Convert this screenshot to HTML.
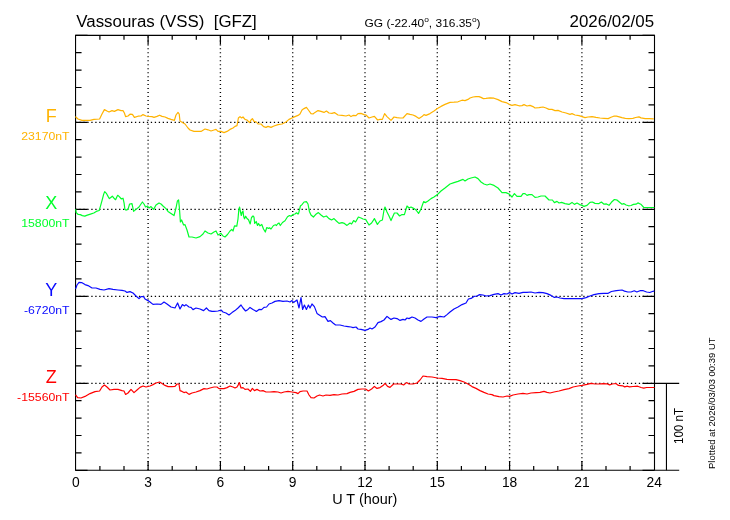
<!DOCTYPE html>
<html><head><meta charset="utf-8"><title>VSS</title>
<style>html,body{margin:0;padding:0;background:#fff}svg{display:block;will-change:transform}text{font-family:"Liberation Sans",sans-serif}</style></head><body>
<svg width="730" height="520" viewBox="0 0 730 520">
<rect width="730" height="520" fill="#fff"/>
<g stroke="#000" stroke-width="1.4" stroke-dasharray="1 2.969" fill="none">
<line x1="148.10" y1="36.44" x2="148.10" y2="470.20"/>
<line x1="220.40" y1="36.44" x2="220.40" y2="470.20"/>
<line x1="292.70" y1="36.44" x2="292.70" y2="470.20"/>
<line x1="365.00" y1="36.44" x2="365.00" y2="470.20"/>
<line x1="437.30" y1="36.44" x2="437.30" y2="470.20"/>
<line x1="509.60" y1="36.44" x2="509.60" y2="470.20"/>
<line x1="581.90" y1="36.44" x2="581.90" y2="470.20"/>
<line x1="75.43" y1="122.35" x2="654.20" y2="122.35" stroke-width="1.25" stroke-dasharray="1.3 2.6675"/>
<line x1="75.43" y1="209.35" x2="654.20" y2="209.35" stroke-width="1.25" stroke-dasharray="1.3 2.6675"/>
<line x1="75.43" y1="296.35" x2="654.20" y2="296.35" stroke-width="1.25" stroke-dasharray="1.3 2.6675"/>
<line x1="75.43" y1="383.35" x2="654.20" y2="383.35" stroke-width="1.25" stroke-dasharray="1.3 2.6675"/>
</g>
<g stroke="#000" stroke-width="1.1" fill="none">
<path d="M75.55 470.25V35.35H654.5V470.25" stroke-linejoin="miter"/>
<path d="M75.00 470.25H679.2"/>
<path d="M654.5 383.35H679.2M666.45 383.20V470.25"/>
<path d="M99.90 35.35v4.3M99.90 470.25v-4.3M124.00 35.35v4.3M124.00 470.25v-4.3M148.10 35.35v9.2M148.10 470.25v-9.2M172.20 35.35v4.3M172.20 470.25v-4.3M196.30 35.35v4.3M196.30 470.25v-4.3M220.40 35.35v9.2M220.40 470.25v-9.2M244.50 35.35v4.3M244.50 470.25v-4.3M268.60 35.35v4.3M268.60 470.25v-4.3M292.70 35.35v9.2M292.70 470.25v-9.2M316.80 35.35v4.3M316.80 470.25v-4.3M340.90 35.35v4.3M340.90 470.25v-4.3M365.00 35.35v9.2M365.00 470.25v-9.2M389.10 35.35v4.3M389.10 470.25v-4.3M413.20 35.35v4.3M413.20 470.25v-4.3M437.30 35.35v9.2M437.30 470.25v-9.2M461.40 35.35v4.3M461.40 470.25v-4.3M485.50 35.35v4.3M485.50 470.25v-4.3M509.60 35.35v9.2M509.60 470.25v-9.2M533.70 35.35v4.3M533.70 470.25v-4.3M557.80 35.35v4.3M557.80 470.25v-4.3M581.90 35.35v9.2M581.90 470.25v-9.2M606.00 35.35v4.3M606.00 470.25v-4.3M630.10 35.35v4.3M630.10 470.25v-4.3M75.55 35.30h12M654.50 35.30h-12M75.55 52.70h6M654.50 52.70h-6M75.55 70.10h6M654.50 70.10h-6M75.55 87.50h6M654.50 87.50h-6M75.55 104.90h6M654.50 104.90h-6M75.55 122.30h12M654.50 122.30h-12M75.55 139.70h6M654.50 139.70h-6M75.55 157.10h6M654.50 157.10h-6M75.55 174.50h6M654.50 174.50h-6M75.55 191.90h6M654.50 191.90h-6M75.55 209.30h12M654.50 209.30h-12M75.55 226.70h6M654.50 226.70h-6M75.55 244.10h6M654.50 244.10h-6M75.55 261.50h6M654.50 261.50h-6M75.55 278.90h6M654.50 278.90h-6M75.55 296.30h12M654.50 296.30h-12M75.55 313.70h6M654.50 313.70h-6M75.55 331.10h6M654.50 331.10h-6M75.55 348.50h6M654.50 348.50h-6M75.55 365.90h6M654.50 365.90h-6M75.55 383.30h12M654.50 383.30h-12M75.55 400.70h6M654.50 400.70h-6M75.55 418.10h6M654.50 418.10h-6M75.55 435.50h6M654.50 435.50h-6M75.55 452.90h6M654.50 452.90h-6M75.55 470.30h12M654.50 470.30h-12" stroke-width="1.2"/>
</g>
<g fill="none" stroke-width="1.2" stroke-linejoin="round" stroke-linecap="round">
<polyline stroke="#ffb300" points="75.8,117 78,119 82,120.4 90,120.4 94,119.4 99.6,119 102,114 104.4,109.6 107,111 109,112 112,110.6 114.4,111.4 118,109.6 121,110.6 123,110.6 124.4,113 125.6,116.6 128,116 130,114.2 132.4,114.4 134.4,117.4 138,116.2 141,116 143,114.6 146,116 149,116.4 152,116.6 154,117.4 157,116.4 159.6,115.2 162,116.4 165,117 168,118.4 171,119.4 174.4,120.4 176,115 178,112.4 179.2,114 180,121 182,122.2 185,124 188,128 190,130 194,131.4 201,131.4 205,129 208,129.8 211,131 214,130 216,129.4 218,131.4 221,131.4 224,132.6 227,131.4 230,129.4 233,128 235,126.4 237,125.6 238.4,118 240,116.6 241.6,118 243,117 245,119.4 247,120 249.6,122.6 251,120 252.4,118.6 254,121.4 256.4,122 258,124 261,124 263.6,126.6 266,127.4 268,126.4 271,127.4 274,126 278,124.6 282,124 286,122 289,119.4 292,118 295,116.6 298,115.4 300,114 302,110 304,108.6 306.4,107.4 308.4,110 311,113.6 313,114 315,112.4 318,110.6 321,111.4 324,112.4 326.4,111 329,113 332,113.4 334.4,112.6 338,115 342,115.4 346,116 349,115 351,116.6 353,115.4 356,115.6 358,113.6 361,113.4 364,114.6 366,115 369,118 372,117 374.4,116.4 377.6,120 380,119.4 382.4,119.4 384.6,113.6 387,116.6 391,120.4 394,117 397,117.6 400,118 403,118 407,113.6 410,114.4 413,115 416,116.4 419,118.4 422,116.6 424,114.6 426,115.4 430,113.6 434,111 437.4,108.6 441,106.4 445,104.4 450,102.4 454,102.2 458,101.8 462,100.2 465,100.6 468,99.4 470,98 473,97 476,96.6 479,96.6 481,97.4 483.4,98.6 486,98.4 490,97.8 494,98.2 498,99.6 502,101.6 506,102.6 509.6,104.6 512,105.4 515,104.6 519,105.8 522,105.6 524,104.6 527,106 530,105.4 533,106.6 535,108 539,107.6 543,107 546,108 549,109.4 552,109.4 555,110.6 558,110.4 562,112 566,113 570,114.4 572,113.6 575,115 579,115.6 582,116.6 585,117.6 588,117 592,116.6 596,117.4 600,118 604,118.3 608.2,118.6 611,117.2 613.7,116.2 616.4,116.1 619.2,116.8 621.9,117.6 625.3,118.3 628.8,118.6 632.9,118.3 635.6,117.5 639,116.9 641,117.9 645.2,118.6 649.3,118.7 653.4,118.8"/>
<polyline stroke="#00ff2a" points="75.8,209.6 76.2,212.6 78.2,214.5 80.3,214.65 82.3,215.6 84.8,216.1 87.3,215.1 90.5,214.1 93.8,213 96.3,211.4 99.2,210.5 100.4,206.4 102,200.7 103.7,194.1 104.7,191.6 106.6,193.7 108.2,196.6 109.4,198.6 111.1,197.2 112.3,196.2 114,198.2 115.6,199.7 116.8,197 117.7,195.3 119.3,196.6 121.4,199 123,198.2 124.1,203.1 124.9,209.3 125.9,210.1 128,209.4 129.6,204 132,203.6 133.6,211.4 136,209.4 139,207 141,204 142.4,202 144,204 145.6,207 147.6,206 149,208 151,206.6 153.6,209.4 156,205 159,203 161,204 163,206 166,208.6 168,211.4 171,213.4 174,215.6 176,208 177.4,201 178.6,200 179.4,208 180.4,222 181.6,220 183.6,225 185,224.6 187,230 189,237 192,237 196,238 200,236.6 203,234 205,231 208,233 211,234 214,232 216,231 218,235 221,233.4 223,236 225,237 227.5,234.5 230,231 231.8,229.5 233,231 234.5,225.8 236.8,226.2 238,219 238.8,210 239.6,207 240.3,211 241.3,215.5 242.2,212 243,211 243.7,216.5 244.5,218.8 245.7,216.2 247,218.5 248.5,219.8 250.2,224 251.5,217.5 253,216 254,217.2 254.7,223.5 256.2,221.5 257.5,225.5 258.5,223.5 260,225.8 261.8,224.5 263.5,229 265.3,232 266.8,227.5 268.5,228.5 269.5,227.8 271,229 273.5,225.5 275.5,224.8 276.5,225.5 277.5,224 279,223 280.3,225.5 282.5,222.5 285,220.8 287.5,216.8 289.5,215.5 291,216.2 293,214.5 295,214 296.5,212.8 298,214 298.6,213.4 300.4,206 302,204.6 304,202 306.4,201.6 308,204 309.4,211.4 311,215 313.4,217 315.6,214.6 318.4,212.6 321,215 323.6,217 326.4,216 329,218.6 331.6,220 334,218.6 336.4,221 339,223.4 342,222.6 344.4,223.4 347,225.4 350,223 351.6,224 353.6,220.6 355.6,222 358.4,217 361,218 363,219 365.6,219.4 369,225 371.6,223 374.4,218.6 377.4,224.4 380,221 382.4,220 384,210 385,207 387,212 389,216 391,220.6 394.4,213 397,213 399.6,216 402,214.6 404.4,214.6 407,206 409,208 411,207 414,208.6 416,210 418.6,213.4 421,209 423.6,201.6 425.6,202.6 428,201 431,198.6 434,197 437.4,194.6 441,191 445,188 450,184 454,182.6 458,181.4 463,179.4 465,181 468,179 471,178 475,177 478,178.6 481,182 484,184 487,185 490,184 494,185.4 498,188 502,192.6 506,192.6 509,194 512,197 514.4,193.6 517,196.4 521,196.4 523,193.6 525,193.6 527,195.4 529,194.6 532,194.6 535,197.4 538,197 541,196 545,196 549,200 552.4,200 554.4,202.6 557,201.4 559,203 561.6,202.4 565,203.6 569,204.4 572,202.4 574.4,204.4 577,203 579.6,204.6 582,205.4 584,206.4 587,205.4 590,202.4 592.4,202 595,203.4 599,203.6 601.4,202 604,204.2 606.5,203.9 609,205.3 611.4,202.3 614.4,199.5 617.2,200.2 619.6,202.3 622,204.2 623.7,203.6 626.1,205 628.6,205.8 631,205.5 633.5,204.4 636,204.2 637.9,202.9 640.8,204.2 643.8,207.5 653.9,207.5"/>
<polyline stroke="#0a0aff" points="75.8,288.4 77,285 79,282.4 81.6,282.6 85,284.6 88,285.6 92,288 96,288 100,289.4 104,290 109,288.6 113,289.4 118,290 122,290.4 125,291 127,292.4 130,291.6 133,293 136,296 139,298.6 141,296.6 143.6,296.6 145,299 148,300.6 150,302 153,304.4 157,304 161,304.4 164,302 167,304 171,307 175,308 177.6,303 180,309 182.4,304.6 184.4,306 186,304.6 189,307 191,307.4 193,309.6 196,308 200,309 203.6,310.6 206.4,308 209,310.6 212,311.4 214,311.4 218,311 221,310 223,312 226,313 229,315 232,312.6 235,310.6 238,308 241,305 243,308 245.6,311 248,309.4 250,307.4 253,309.4 256.4,311.4 259,309.4 261.6,309.6 264,307.4 266.6,307 269,304 272,303 275,301.4 279,300.6 283,301.4 287,301 290,302 292,300.6 293.6,302.4 295.6,301 297,300 299,308 301,297.6 302.6,309.4 304.4,305 306.4,309.4 308.4,305 310,308 312,304 314.4,306.6 317,313.4 320,315.4 322.4,317 325,316.6 328,321.4 330.4,320.6 333,323 335.6,325 340,325 344,326 348,326.6 351,327 353,327.6 356,327 358,329 361,329.4 365,330.4 368,329.4 370,328 372,329 375,327 378,322.6 381,321.6 384,320 387,316.4 389,318 391,319.4 394,318 397,318.6 400,320.4 403,319.4 405,320 407,318 409,318.6 412,317 415,318 418,320 421,321.4 424,319 427,317 432,317 436,317.6 440,316.4 444,317 447,314.6 450,312 454,309 458,307 462,304.6 466,303 468.4,299 471,298.4 474,296.4 477,296 479.6,294.6 483,295 486,296 490,295.6 494,294.4 498,293.6 501,295 504,293.6 507,294 509.6,292.6 512,294 515,292.6 519,293.4 523,292.4 527,292.4 531,292 535,293 539,292.4 543,292.6 547,293.6 551,295.4 554.4,297.4 557,297 560,298 564,298.6 570,298.6 576,298.6 582,298.6 586,297.6 590,296 594,294.6 599,293.6 604,293.4 608.2,293.3 611.4,291.5 616.3,290.7 622,290 624.5,291.1 627.8,292 631,292 634.3,290.8 636.8,292 640,290.7 643.3,290.7 646.6,292 649.8,292.5 652.3,291.5 653.9,291.1"/>
<polyline stroke="#ff0000" points="75.8,395.2 77.6,397.6 81,398 85,396.4 90,393.6 95,391.6 99.6,391 102,387 104.4,385 107,387 110,390 114,389.4 118,389.4 122,390.6 124,391 125.6,394.4 128,393 131,389.4 134,392.6 137,390 140,387.4 143,386 146,387 150,386 153,384.6 156,383 159.6,382 162,383.6 165,385.4 168,386.6 172,386.6 175,386.4 177,384 179,384 180,390.6 182,391.4 184,392.6 186,392 189,394.4 192,393 196,392 200,390.6 204,388.6 207,389 210,388 214,387 217,387 219,388.6 224,388.6 227,387.6 230,386 233,387 235,388 237,387 238.4,384.6 239.4,382.6 241,388 243,387.6 245,389.4 248,389 250.4,391.4 252.4,388.4 254.4,390.6 257,389.4 260,391 263,390.6 266,392 270,392 274,391.6 278,392 281,393 284,392 288,391.4 292,392 296,392.6 298,393.6 300,391.6 303,391 307,391 309,395 311,397.6 314,398 317,396 319.6,395 323,396 326,395 330,395.4 334,394.6 338,395 342,394 347,393.6 350,392.4 354,391.4 358,389.4 362,389 365.6,389 368.4,391 371.6,389 374.4,386.4 377,388.4 380,387.6 383,385.6 385,383.4 387.6,386.4 390,387.4 393.6,384 397,384 401,384 403.6,385 406.6,382.6 409,384 413,384 417,383 420,380 423,376 427,376.6 432,377 437.4,378 442,378.4 447,379.4 452,379.6 456,379.6 460,380.6 464,382 468,384 472,386.6 476,388.4 480,390.6 484,392.4 488,394 492,394.6 494,395.6 499,396.6 503,397 507,396 509.6,396.4 513,395 518,394 523,393.4 527,394 531,393 536,392.6 540,392.4 544,391.4 547,392.4 550,393 554,392 559,391 564,389.6 569,388.6 573,387 578,386 582,385.4 587,384.4 591,383.4 595,384 599,384 603,383.6 606.8,383.8 609.6,384.9 612.3,384 615.8,383.5 618.5,385.4 622.6,385.8 624.7,386.9 627.4,386.2 629.5,386.9 632.9,386.5 637.7,386.2 641.1,387.5 643.8,388.2 646.6,387.5 654.1,387.5"/>
</g>
<g fill="#000">
<text x="76.3" y="26.9" font-size="16" textLength="180.5" lengthAdjust="spacingAndGlyphs">Vassouras (VSS)&#160;&#160;[GFZ]</text>
<text x="364.6" y="27" font-size="11.4" textLength="116" lengthAdjust="spacingAndGlyphs">GG (-22.40<tspan font-size="8" dy="-5.2">o</tspan><tspan dy="5.2">, 316.35</tspan><tspan font-size="8" dy="-5.2">o</tspan><tspan dy="5.2">)</tspan></text>
<text x="569.6" y="26.7" font-size="16" textLength="84.5" lengthAdjust="spacingAndGlyphs">2026/02/05</text>
<text x="75.80" y="487.45" font-size="13.8" text-anchor="middle">0</text>
<text x="148.10" y="487.45" font-size="13.8" text-anchor="middle">3</text>
<text x="220.40" y="487.45" font-size="13.8" text-anchor="middle">6</text>
<text x="292.70" y="487.45" font-size="13.8" text-anchor="middle">9</text>
<text x="365.00" y="487.45" font-size="13.8" text-anchor="middle">12</text>
<text x="437.30" y="487.45" font-size="13.8" text-anchor="middle">15</text>
<text x="509.60" y="487.45" font-size="13.8" text-anchor="middle">18</text>
<text x="581.90" y="487.45" font-size="13.8" text-anchor="middle">21</text>
<text x="654.20" y="487.45" font-size="13.8" text-anchor="middle">24</text>
<text x="332.2" y="503.8" font-size="14" textLength="65.2" lengthAdjust="spacingAndGlyphs">U T (hour)</text>
<text transform="translate(683 444) rotate(-90)" font-size="12" textLength="36" lengthAdjust="spacingAndGlyphs">100 nT</text>
<text transform="translate(715 469) rotate(-90)" font-size="9.6" textLength="131.5" lengthAdjust="spacingAndGlyphs">Plotted at 2026/03/03 00:39 UT</text>
</g>
<text x="51.2" y="121.80" font-size="18" text-anchor="middle" fill="#ffb300">F</text>
<text transform="translate(69.6 139.90) scale(1.068 1)" font-size="11.5" text-anchor="end" fill="#ffb300">23170nT</text>
<text x="51.2" y="208.80" font-size="18" text-anchor="middle" fill="#00ff2a">X</text>
<text transform="translate(69.6 226.90) scale(1.068 1)" font-size="11.5" text-anchor="end" fill="#00ff2a">15800nT</text>
<text x="51.2" y="295.80" font-size="18" text-anchor="middle" fill="#0a0aff">Y</text>
<text transform="translate(69.6 313.90) scale(1.068 1)" font-size="11.5" text-anchor="end" fill="#0a0aff">-6720nT</text>
<text x="51.2" y="382.80" font-size="18" text-anchor="middle" fill="#ff0000">Z</text>
<text transform="translate(69.6 400.90) scale(1.068 1)" font-size="11.5" text-anchor="end" fill="#ff0000">-15560nT</text>
</svg></body></html>
